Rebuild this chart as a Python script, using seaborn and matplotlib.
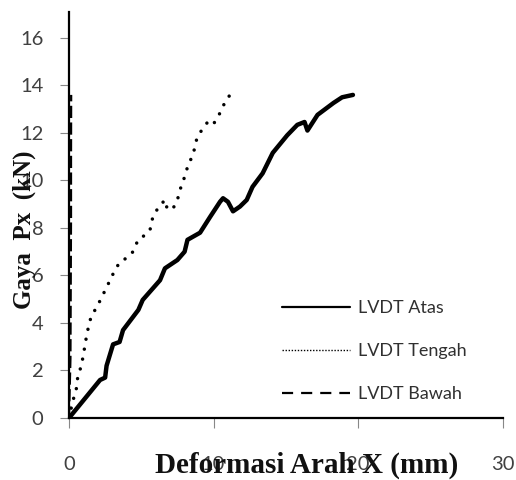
import matplotlib
matplotlib.use("Agg")
import matplotlib.pyplot as plt
from matplotlib.lines import Line2D
import seaborn as sns
import pandas as pd

# ---- data ----
atas_x = [0, 2.15, 2.5, 2.6, 3.05, 3.5, 3.74, 4.8, 5.1, 6.3, 6.64, 7.5, 8.0, 8.2, 9.07,
          9.76, 10.45, 10.66, 11.0, 11.35, 11.83, 12.3, 12.7, 13.4, 14.1, 15.1, 15.8,
          16.3, 16.5, 17.2, 18.3, 18.9, 19.65]
atas_y = [0, 1.6, 1.7, 2.2, 3.1, 3.2, 3.7, 4.55, 4.97, 5.8, 6.3, 6.65, 7.0, 7.5, 7.8,
          8.46, 9.1, 9.25, 9.1, 8.7, 8.9, 9.18, 9.73, 10.3, 11.16, 11.9, 12.34,
          12.46, 12.1, 12.76, 13.26, 13.5, 13.6]

tengah_x = [0, 0.28, 0.48, 0.62, 0.83, 0.97, 1.25, 1.52, 2.0, 2.28, 2.84, 3.18, 3.53,
            4.0, 4.43, 4.78, 5.26, 5.6, 5.8, 6.16, 6.64, 6.78, 7.13, 7.47, 7.68, 8.03,
            8.24, 8.58, 8.86, 9.27, 9.6, 9.97, 10.45, 10.8, 11.14]
tengah_y = [0, 0.76, 1.1, 1.8, 2.15, 2.57, 3.58, 4.25, 4.76, 5.1, 5.8, 6.23, 6.57,
            6.74, 7.0, 7.5, 7.7, 7.9, 8.46, 8.84, 9.18, 8.84, 8.76, 9.1, 9.6, 10.2,
            10.65, 11.07, 11.8, 12.2, 12.46, 12.34, 12.84, 13.3, 13.6]

bawah_x = [0, 0.1, 0.12, 0.14, 0.14, 0.15]
bawah_y = [0, 2.5, 5.5, 8.5, 11.0, 13.6]

labels = ["LVDT Atas", "LVDT Tengah", "LVDT Bawah"]
x_ticks = [0, 10, 20, 30]
y_ticks = [0, 2, 4, 6, 8, 10, 12, 14, 16]

sns.set_theme(style="white")
plt.rcParams["font.family"] = ["Lato", "DejaVu Sans"]

fig = plt.figure(figsize=(5.16, 4.8), dpi=100)
ax = fig.add_axes([69 / 516, 62 / 480, 433.5 / 516, 406 / 480])

df_a = pd.DataFrame({"x": atas_x, "y": atas_y})
df_t = pd.DataFrame({"x": tengah_x, "y": tengah_y})
df_b = pd.DataFrame({"x": bawah_x, "y": bawah_y})

sns.lineplot(data=df_a, x="x", y="y", ax=ax, color="black", lw=3.2,
             sort=False, estimator=None, solid_joinstyle="round", solid_capstyle="round")
sns.lineplot(data=df_t, x="x", y="y", ax=ax, color="black", lw=2.5,
             linestyle=(0, (0.01, 2.9)), dash_capstyle="round",
             sort=False, estimator=None)
sns.lineplot(data=df_b, x="x", y="y", ax=ax, color="black", lw=1.6,
             linestyle=(0, (5.5, 2.0)), sort=False, estimator=None)

ax.set_xlim(0, 30)
ax.set_ylim(0, 17.09)
ax.set_xticks(x_ticks)
ax.set_yticks(y_ticks)
ax.set_xticklabels([str(v) for v in x_ticks])
ax.set_yticklabels([str(v) for v in y_ticks])

for s in ["top", "right"]:
    ax.spines[s].set_visible(False)
for s in ["left", "bottom"]:
    ax.spines[s].set_color("black")
    ax.spines[s].set_linewidth(1.6)

ax.tick_params(axis="x", direction="out", length=7, width=0.8, color="#888888",
               pad=20, labelsize=14.5, labelcolor="#404040", bottom=True)
ax.tick_params(axis="y", direction="out", length=6.5, width=0.8, color="#888888",
               pad=12, labelsize=14.5, labelcolor="#404040", left=True)

ax.set_xlabel("Deformasi Arah X (mm)", fontsize=21, fontweight="bold",
              family="Liberation Serif", color="#111111")
ax.xaxis.label.set_va("center")
ax.xaxis.set_label_coords((307 - 69) / 433.5, -47 / 406)

ax.set_ylabel("Gaya  Px  (kN)", fontsize=18, fontweight="bold",
              family="Liberation Serif", color="#111111")
ax.yaxis.label.set_va("center")
ax.yaxis.set_label_coords((24 - 69) / 433.5, (418 - 230) / 406)

handles = [
    Line2D([], [], color="black", lw=1.6),
    Line2D([], [], color="black", lw=1.0, linestyle=(0, (1, 1.2))),
    Line2D([], [], color="black", lw=1.6, linestyle=(0, (5, 3.6))),
]
leg = ax.legend(handles=handles, labels=labels, loc="center left",
                bbox_to_anchor=((282 - 69) / 433.5, (418 - 351) / 406),
                frameon=False, fontsize=13, handlelength=3.77, handletextpad=0.44,
                labelspacing=1.5, borderpad=0, borderaxespad=0)
for t in leg.get_texts():
    t.set_color("#303030")

fig.savefig("out.png", dpi=100)
